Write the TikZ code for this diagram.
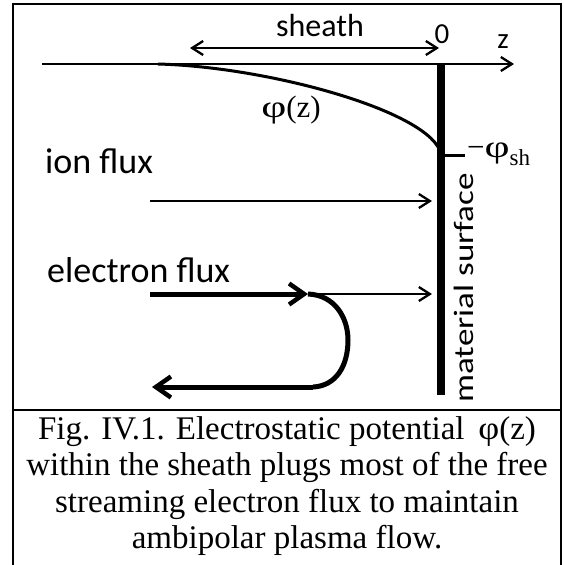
\documentclass[tikz,border=0pt]{standalone}
\usepackage{fontspec}
\setmainfont{Liberation Serif}
\newfontfamily\carlitofont{Carlito}
\usetikzlibrary{arrows.meta}
\newcommand{\widephi}{\scalebox{1.4}[1]{φ}}
\begin{document}
\begin{tikzpicture}[x=1pt,y=-1pt,
  lbl/.style={font=\carlitofont\fontsize{36}{38}\selectfont, inner sep=0pt},
  axlbl/.style={font=\carlitofont\fontsize{29}{31}\selectfont, inner sep=0pt},
  mth/.style={font=\fontsize{31}{33}\selectfont, inner sep=0pt},
  captext/.style={font=\fontsize{33}{36.5}\selectfont, align=center, inner sep=0pt},
  thinbarb/.style={-{Straight Barb[length=11pt,width=14pt,line width=2.3pt]}},
  thickbarb/.style={-{Straight Barb[length=15pt,width=21pt,line width=4.5pt]}},
  thinline/.style={line width=2pt},
  thickline/.style={line width=5pt}]
\useasboundingbox (0,0) rectangle (563,565);
% frame
\draw[line width=2pt] (13,580) -- (13,3.5) -- (561,3.5) -- (561,580);
\draw[line width=2pt] (13,409.5) -- (561,409.5);
% coordinates
\coordinate (zs) at (42,64);
\coordinate (ze) at (514,64);
\coordinate (w0) at (441,65);
\coordinate (w1) at (441,395);
\coordinate (cs) at (158,64);
\coordinate (ce) at (441,154);
\coordinate (sa) at (190,48);
\coordinate (sb) at (439,48);
\coordinate (tk) at (465,155);
\coordinate (i0) at (150,201);
\coordinate (i1) at (432,201);
\coordinate (e0) at (150,294);
\coordinate (e1) at (308,294);
\coordinate (e2) at (432,294);
\coordinate (um) at (348,340);
\coordinate (b0) at (313,387);
\coordinate (b1) at (152,387);
% axis, wall, potential
\draw[thinline,thinbarb] (zs) -- (ze);
\draw[line width=7.5pt] (w0) -- (w1);
\draw[line width=3pt] (cs) .. controls (270,67) and (432,112) .. (ce);
\draw[thinline,{Straight Barb[length=11pt,width=14pt,line width=2.3pt]}-{Straight Barb[length=11pt,width=14pt,line width=2.3pt]}] (sa) -- (sb);
\draw[line width=3pt] (w0 |- tk) -- (tk);
% labels
\node[font=\carlitofont\fontsize{32}{34}\selectfont, inner sep=0pt, anchor=base] (sh) at (320,36) {sheath};
\node[axlbl, anchor=base] (o) at (442,43) {0};
\node[axlbl, anchor=base] (z) at (503,48) {z};
\node[mth] (phi) at (291,110) {\widephi(z)};
\node[mth, anchor=base west] (phsh) at (467,157) {−\widephi\raisebox{-8pt}{\fontsize{23}{25}\selectfont sh}};
\node[lbl, anchor=base west] (ion) at (45,173) {ion flux};
\node[lbl, anchor=base west] (el) at (47,282) {electron flux};
\node[font=\carlitofont\fontsize{28}{30}\selectfont, inner sep=0pt, rotate=90] (ms) at (464,288) {\scalebox{1.25}[1]{material surface}};
% fluxes
\draw[thinline,thinbarb] (i0) -- (i1);
\draw[thinline,thinbarb] (e1) -- (e2);
\draw[thickline,thickbarb] (e0) -- (e1);
\draw[thickline] (e1) .. controls (335,295) and (348,318) .. (um) .. controls (348,366) and (336,386) .. (b0);
\draw[thickline,thickbarb] (b0) -- (b1);
% caption
\node[captext, anchor=north] (cp) at (287,416) {Fig. IV.1. Electrostatic potential \,\scalebox{1.1}[1]{φ}(z)\\within the sheath plugs most of the free\\streaming electron flux to maintain\\ambipolar plasma flow.};
\end{tikzpicture}
\end{document}
